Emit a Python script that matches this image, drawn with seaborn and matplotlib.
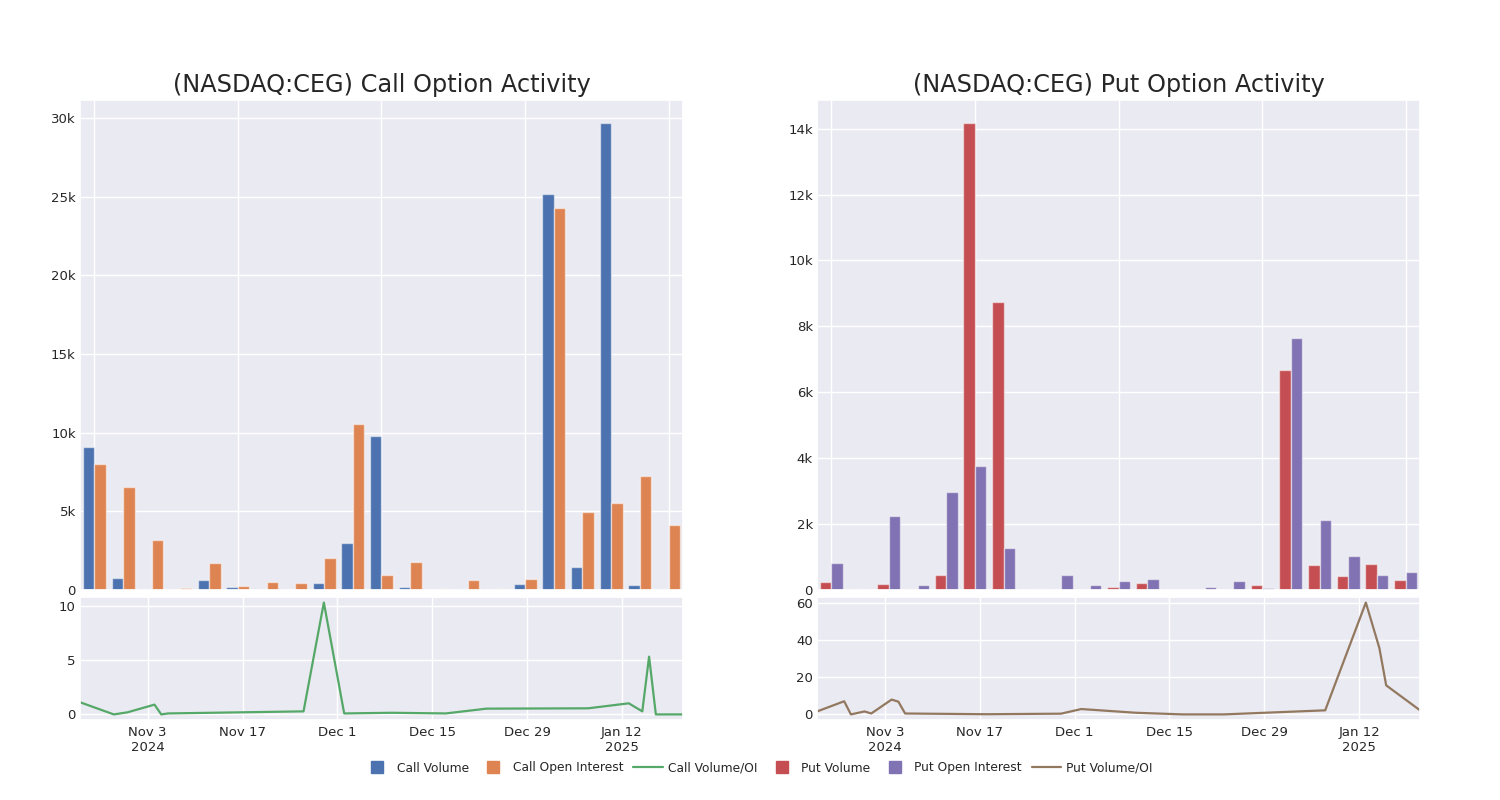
import matplotlib

matplotlib.use("Agg")

import matplotlib.pyplot as plt
import matplotlib.ticker as mticker
import pandas as pd
import seaborn as sns
from matplotlib.lines import Line2D

# Bar sessions (labels are hidden on the chart)
sessions = [
    "2024-10-24", "2024-10-28", "2024-10-29", "2024-10-31", "2024-11-01",
    "2024-11-04", "2024-11-05", "2024-11-06", "2024-11-26", "2024-11-29",
    "2024-12-02", "2024-12-10", "2024-12-17", "2024-12-19", "2024-12-23",
    "2025-01-07", "2025-01-13", "2025-01-15", "2025-01-16", "2025-01-17",
    "2025-01-21",
]

call_volume = [
    9090, 790, 60, 20, 640, 220, 0, 30, 470, 3010, 9810,
    190, 0, 50, 30, 380, 25170, 1490, 29650, 300, 40,
]
call_open_interest = [
    8030, 6550, 3180, 100, 1700, 250, 490, 470, 2060, 10550, 930,
    1780, 80, 620, 40, 680, 24240, 4940, 5530, 7250, 4130,
]

put_volume = [
    240, 30, 190, 20, 470, 14160, 8740, 10, 10, 10, 100,
    220, 10, 0, 10, 160, 6670, 750, 410, 790, 300,
]
put_open_interest = [
    830, 0, 2250, 140, 2980, 3750, 1280, 20, 450, 140, 260,
    320, 10, 100, 280, 70, 7660, 2120, 1030, 470, 560,
]

# Volume / open interest lines
call_ratio_dates = [
    "2024-10-24", "2024-10-29", "2024-10-31", "2024-11-04", "2024-11-05",
    "2024-11-06", "2024-11-26", "2024-11-29", "2024-12-02", "2024-12-09",
    "2024-12-17", "2024-12-23", "2025-01-07", "2025-01-13", "2025-01-15",
    "2025-01-16", "2025-01-17", "2025-01-21",
]
call_ratio = [
    1.12, 0.0, 0.19, 0.9, 0.0, 0.09, 0.28, 10.28, 0.09, 0.15,
    0.09, 0.53, 0.56, 1.02, 0.28, 5.31, 0.0, 0.0,
]

put_ratio_dates = [
    "2024-10-24", "2024-10-28", "2024-10-29", "2024-10-31", "2024-11-01",
    "2024-11-04", "2024-11-05", "2024-11-06", "2024-11-18", "2024-11-29",
    "2024-12-02", "2024-12-10", "2024-12-17", "2024-12-23", "2025-01-07",
    "2025-01-13", "2025-01-15", "2025-01-16", "2025-01-17", "2025-01-21",
]
put_ratio = [
    1.6, 7.1, 0.0, 1.6, 0.5, 8.0, 6.9, 0.5, 0.1, 0.4,
    2.9, 0.9, 0.0, 0.0, 2.2, 60.4, 35.8, 15.7, 13.0, 2.2,
]

date_ticks = ["2024-11-03", "2024-11-17", "2024-12-01", "2024-12-15", "2024-12-29", "2025-01-12"]
date_tick_labels = ["Nov 3\n2024", "Nov 17", "Dec 1", "Dec 15", "Dec 29", "Jan 12\n2025"]

colors = sns.color_palette("deep")
call_colors = [colors[0], colors[1]]
put_colors = [colors[3], colors[4]]
call_line_color = colors[2]
put_line_color = colors[5]


def k_formatter(value, _pos):
    if value == 0:
        return "0"
    return f"{value / 1000:g}k"


def draw_bars(ax, volume, open_interest, labels, palette, title):
    frame = pd.DataFrame(
        {
            "session": sessions * 2,
            "value": list(volume) + list(open_interest),
            "kind": [labels[0]] * len(sessions) + [labels[1]] * len(sessions),
        }
    )
    sns.barplot(
        data=frame,
        x="session",
        y="value",
        hue="kind",
        palette=palette,
        saturation=1,
        ax=ax,
        width=0.8,
        edgecolor=(1, 1, 1, 0.5),
        linewidth=1.0,
        legend=False,
    )
    ax.set_xticks([0, 5, 10, 15, 20])
    ax.set_xticklabels([])
    ax.grid(True, axis="x")
    ax.set_xlim(-0.5, len(sessions) - 0.5)
    ax.yaxis.set_major_formatter(mticker.FuncFormatter(k_formatter))
    ax.set_xlabel("")
    ax.set_ylabel("")
    ax.set_title(title, fontsize=17.3, pad=6)


def draw_ratio(ax, dates, values, color):
    frame = pd.DataFrame({"date": pd.to_datetime(dates), "ratio": values})
    sns.lineplot(data=frame, x="date", y="ratio", color=color, linewidth=1.6, ax=ax)
    ax.set_xlim(frame["date"].min(), frame["date"].max())
    ax.set_xticks(pd.to_datetime(date_ticks))
    ax.set_xticklabels(date_tick_labels)
    ax.set_xlabel("")
    ax.set_ylabel("")


sns.set_theme(style="darkgrid")
plt.rcParams["font.family"] = ["DejaVu Sans"]

fig = plt.figure(figsize=(15, 8), dpi=100)

left_x, right_x, width = 0.0533, 0.5447, 0.402
call_bar_ax = fig.add_axes([left_x, 0.2625, width, 0.6125])
call_line_ax = fig.add_axes([left_x, 0.1, width, 0.15375])
put_bar_ax = fig.add_axes([right_x, 0.2625, width, 0.6125])
put_line_ax = fig.add_axes([right_x, 0.1, width, 0.15375])

draw_bars(
    call_bar_ax, call_volume, call_open_interest,
    ["Call Volume", "Call Open Interest"], call_colors,
    "(NASDAQ:CEG) Call Option Activity",
)
draw_bars(
    put_bar_ax, put_volume, put_open_interest,
    ["Put Volume", "Put Open Interest"], put_colors,
    "(NASDAQ:CEG) Put Option Activity",
)
draw_ratio(call_line_ax, call_ratio_dates, call_ratio, call_line_color)
draw_ratio(put_line_ax, put_ratio_dates, put_ratio, put_line_color)

call_line_ax.set_yticks([0, 5, 10])
put_line_ax.set_yticks([0, 20, 40, 60])

for ax in [call_bar_ax, call_line_ax, put_bar_ax, put_line_ax]:
    ax.tick_params(axis="y", labelsize=9.5, length=0, pad=3)
    ax.tick_params(axis="x", labelsize=9.5, length=0, pad=4)

handles = [
    Line2D([], [], marker="s", linestyle="none", color=call_colors[0], markersize=9),
    Line2D([], [], marker="s", linestyle="none", color=call_colors[1], markersize=9),
    Line2D([], [], color=call_line_color, linewidth=1.6),
    Line2D([], [], marker="s", linestyle="none", color=put_colors[0], markersize=9),
    Line2D([], [], marker="s", linestyle="none", color=put_colors[1], markersize=9),
    Line2D([], [], color=put_line_color, linewidth=1.6),
]
labels = [
    "Call Volume", "Call Open Interest", "Call Volume/OI",
    "Put Volume", "Put Open Interest", "Put Volume/OI",
]
fig.legend(
    handles, labels, loc="center", bbox_to_anchor=(0.505, 0.04), ncol=6,
    frameon=False, fontsize=8.8, handlelength=2.4, handletextpad=0.4,
    columnspacing=0.8,
)

fig.savefig("out.png", dpi=100)
